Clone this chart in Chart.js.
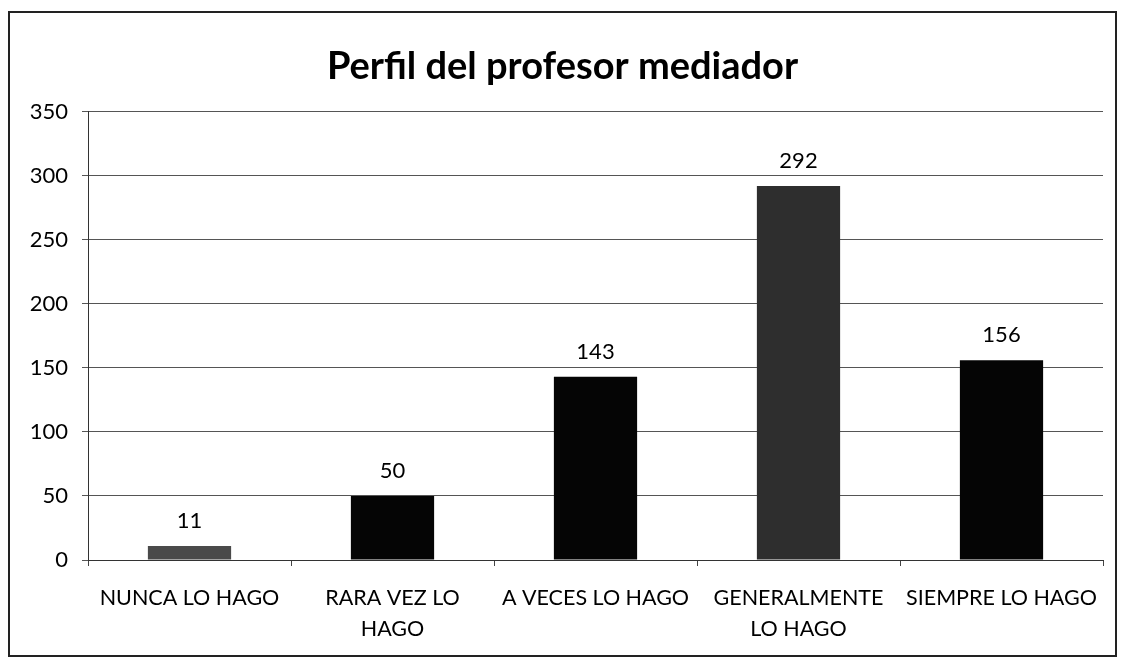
<!DOCTYPE html>
<html>
<head>
<meta charset="utf-8">
<script src="https://cdn.jsdelivr.net/npm/chart.js@4/dist/chart.umd.min.js"></script>
<style>
  body { margin: 0; background: #fff; }
  #frame { position: absolute; left: 8px; top: 11px; width: 1105px; height: 642px; border: 2px solid #222; }
  #wrap { position: absolute; left: 0; top: 0; width: 1125px; height: 662px; }
</style>
</head>
<body>
<div id="frame"></div>
<div id="wrap"><canvas id="chart"></canvas></div>
<script>
const categories = [
  'NUNCA LO HAGO',
  ['RARA VEZ LO', 'HAGO'],
  'A VECES LO HAGO',
  ['GENERALMENTE', 'LO HAGO'],
  'SIEMPRE LO HAGO'
];
const values = [11, 50, 143, 292, 156];
const barColors = ['#4a4a4a', '#050505', '#050505', '#2e2e2e', '#050505'];
const yTicks = [0, 50, 100, 150, 200, 250, 300, 350];

const FONT = 'Lato, Calibri, Carlito, sans-serif';

// numbers above each bar
const valueLabels = {
  id: 'valueLabels',
  afterDatasetsDraw(chart) {
    const c = chart.ctx;
    const meta = chart.getDatasetMeta(0);
    c.save();
    c.font = '22px ' + FONT;
    c.fillStyle = '#000';
    c.textAlign = 'center';
    c.textBaseline = 'middle';
    meta.data.forEach((bar, i) => {
      c.fillText(values[i], bar.x, bar.y - 25);
    });
    c.restore();
  }
};

new Chart(document.getElementById('chart'), {
  type: 'bar',
  data: {
    labels: categories,
    datasets: [{
      data: values,
      backgroundColor: barColors,
      categoryPercentage: 1,
      barPercentage: 0.41
    }]
  },
  options: {
    responsive: true,
    maintainAspectRatio: false,
    animation: false,
    layout: { padding: { left: 22, right: 22, top: 0, bottom: 0 } },
    plugins: {
      legend: { display: false },
      tooltip: { enabled: false },
      title: {
        display: true,
        text: 'Perfil del profesor mediador',
        color: '#000',
        font: { family: FONT, size: 38, weight: 'bold' },
        padding: { top: 44, bottom: 22 }
      }
    },
    scales: {
      x: {
        grid: { display: true, drawOnChartArea: false, color: '#444', tickLength: 6, offset: true },
        border: { display: true, color: '#333', width: 1 },
        ticks: {
          color: '#000',
          maxRotation: 0,
          autoSkip: false,
          padding: 16,
          font: { family: FONT, size: 21.5, lineHeight: 1.45 }
        },
        afterFit(s) { s.height = 102; }
      },
      y: {
        min: 0,
        max: 350,
        afterBuildTicks(s) { s.ticks = yTicks.map(v => ({ value: v })); },
        grid: { color: '#555', lineWidth: 1, tickLength: 6 },
        border: { display: true, color: '#333', width: 1 },
        ticks: {
          color: '#000',
          padding: 14,
          font: { family: FONT, size: 22 }
        },
        afterFit(s) { s.width = 66; }
      }
    }
  },
  plugins: [valueLabels]
});
</script>
</body>
</html>
